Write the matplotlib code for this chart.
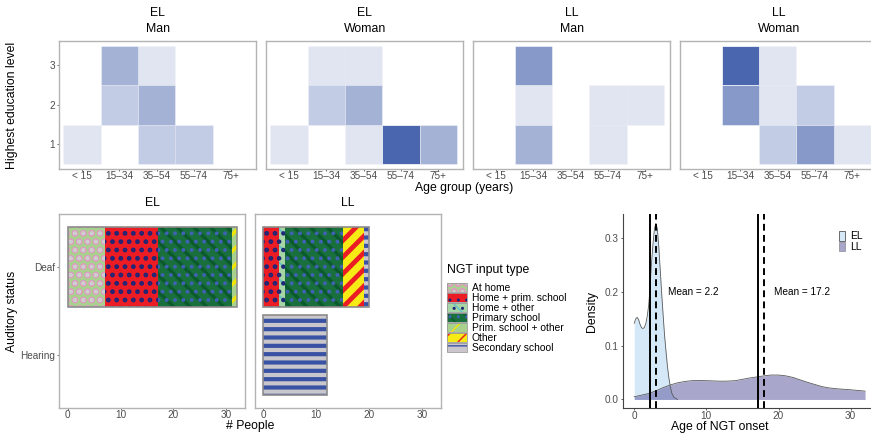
import matplotlib
matplotlib.use("Agg")
import matplotlib.pyplot as plt
from matplotlib.patches import Patch
from matplotlib.legend_handler import HandlerTuple

plt.rcParams['font.family'] = ['Liberation Sans', 'DejaVu Sans']

# ---------------- data ----------------
age_groups = ["< 15", "15–34", "35–54", "55–74", "75+"]
edu_levels = [1, 2, 3]
facet_titles = [("EL", "Man"), ("EL", "Woman"), ("LL", "Man"), ("LL", "Woman")]
# counts[row = education 1..3][col = age group]
el_man = [[1, 0, 2, 2, 0],
          [0, 2, 3, 0, 0],
          [0, 3, 1, 0, 0]]
el_woman = [[1, 0, 1, 6, 3],
            [0, 2, 3, 0, 0],
            [0, 1, 1, 0, 0]]
ll_man = [[0, 3, 0, 1, 0],
          [0, 1, 0, 1, 1],
          [0, 4, 0, 0, 0]]
ll_woman = [[0, 0, 2, 4, 1],
            [0, 4, 1, 2, 0],
            [0, 6, 1, 0, 0]]
heat_counts = [el_man, el_woman, ll_man, ll_woman]

input_types = ["At home", "Home + prim. school", "Home + other", "Primary school",
               "Prim. school + other", "Other", "Secondary school"]
auditory_status = ["Deaf", "Hearing"]
el_deaf = [7, 10, 0, 14, 1, 0, 0]
el_hearing = [0, 0, 0, 0, 0, 0, 0]
ll_deaf = [0, 3, 1, 11, 0, 4, 1]
ll_hearing = [0, 0, 0, 0, 0, 0, 12]
bar_groups = [("EL", [el_deaf, el_hearing]), ("LL", [ll_deaf, ll_hearing])]

el_onset_x = [0, 0.2, 0.4, 0.6, 0.8, 1.0, 1.2, 1.4, 1.6, 1.8, 2.0, 2.2, 2.4, 2.6, 2.8, 3.0,
              3.2, 3.4, 3.6, 3.8, 4.0, 4.2, 4.4, 4.6, 4.8, 5.0, 5.2, 5.5, 6.0]
el_onset_y = [0.142, 0.150, 0.153, 0.149, 0.140, 0.134, 0.132, 0.134, 0.141, 0.155, 0.175,
              0.210, 0.255, 0.290, 0.318, 0.328, 0.318, 0.285, 0.242, 0.198, 0.158, 0.120,
              0.090, 0.062, 0.040, 0.024, 0.012, 0.004, 0.0]
ll_onset_x = [0, 1, 2, 3, 4, 5, 6, 7, 8, 9, 10, 11, 12, 13, 14, 15, 16, 17, 18, 19, 20,
              21, 22, 23, 24, 25, 26, 27, 28, 29, 30, 31, 32]
ll_onset_y = [0.005, 0.008, 0.011, 0.016, 0.022, 0.027, 0.031, 0.0335, 0.035, 0.0352, 0.035,
              0.0345, 0.034, 0.0342, 0.035, 0.0375, 0.040, 0.042, 0.044, 0.0455, 0.0455,
              0.044, 0.041, 0.0365, 0.032, 0.028, 0.024, 0.0215, 0.020, 0.019, 0.018,
              0.0168, 0.0155]
el_mean, el_median = 2.2, 3
ll_mean, ll_median = 17.2, 18

# ---------------- styles ----------------
W, H = 871, 433
fig = plt.figure(figsize=(W / 100, H / 100), dpi=100)

def add_ax(x0, y0, x1, y1):
    return fig.add_axes([x0 / W, 1 - y1 / H, (x1 - x0) / W, (y1 - y0) / H])

def ftext(x, y, s, **kw):
    fig.text(x / W, 1 - y / H, s, **kw)

BOX = '#b3b3b3'
TICKC = '#4d4d4d'
TSIZE = 8.8
KSIZE = 7.2

def style_ticks(ax, color='#555555'):
    ax.tick_params(length=1.6, width=0.6, color=color, labelsize=KSIZE, labelcolor=TICKC)
    ax.tick_params(axis='x', pad=0.1)
    ax.tick_params(axis='y', pad=1.4)

def style_box(ax):
    for s in ax.spines.values():
        s.set_color(BOX)
        s.set_linewidth(1.0)
    style_ticks(ax)

# pattern definitions: background, list of (hatch, colour, hatch linewidth)
patterns = {
    "At home": ('#a9d18e', [('..', '#d3cdd6', 2.4), ('OO', '#d9a0bd', 0.6)]),
    "Home + prim. school": ('#ec1c24', [('..', '#1d2677', 2.2)]),
    "Home + other": ('#a6d6a6', [('\\\\', '#62c0c8', 1.2), ('..', '#1d2677', 2.0)]),
    "Primary school": ('#19703d', [('\\\\', '#0b5a2c', 2.4), ('..', '#3f62b5', 1.6)]),
    "Prim. school + other": ('#a9d18e', [('//', '#f3e600', 2.6)]),
    "Other": ('#f6eb14', [('//', '#ec1c24', 3.4)]),
    "Secondary school": ('#c9c6cc', [('--', '#3a52a3', 3.0)]),
}

def set_hlw(p, lw):
    if hasattr(p, 'set_hatch_linewidth'):
        p.set_hatch_linewidth(lw)

def make_patch_layers(name):
    bg, overlays = patterns[name]
    layers = [Patch(facecolor=bg, edgecolor='none', linewidth=0)]
    for h, c, lw in overlays:
        with plt.rc_context({'hatch.linewidth': lw}):
            p = Patch(facecolor='none', edgecolor=c, hatch=h, linewidth=0)
        set_hlw(p, lw)
        layers.append(p)
    layers.append(Patch(facecolor='none', edgecolor='#9a9a9a', linewidth=0.6))
    return tuple(layers)

# ---------------- heatmaps ----------------
heat_base = '#4a66ae'
heat_max = max(max(max(r) for r in m) for m in heat_counts)
for k, (counts, (grp, sex)) in enumerate(zip(heat_counts, facet_titles)):
    x0 = 59.3 + 207 * k
    ax = add_ax(x0, 40.7, x0 + 196.7, 169)
    for i, edu in enumerate(edu_levels):
        for j in range(len(age_groups)):
            c = counts[i][j]
            if c > 0:
                ax.bar(j + 1, 1, bottom=edu - 0.5, width=1, color=heat_base,
                       alpha=c / heat_max, edgecolor='white', linewidth=0.5)
    ax.set_xlim(0.39, 5.66)
    ax.set_ylim(0.37, 3.63)
    ax.set_xticks(range(1, len(age_groups) + 1))
    ax.set_xticklabels(age_groups)
    ax.set_yticks(edu_levels)
    style_box(ax)
    if k > 0:
        ax.tick_params(axis='y', left=False, labelleft=False)
    ftext(x0 + 196.7 / 2, 13, grp, ha='center', va='center', fontsize=TSIZE)
    ftext(x0 + 196.7 / 2, 29, sex, ha='center', va='center', fontsize=TSIZE)

ftext(12, 105, "Highest education level", rotation=90, ha='center', va='center', fontsize=TSIZE)
ftext(464, 188, "Age group (years)", ha='center', va='center', fontsize=TSIZE)

# ---------------- stacked pattern bars ----------------
for k, (grp, rows) in enumerate(bar_groups):
    x0 = 59.3 + 195.7 * k
    ax = add_ax(x0, 214.3, x0 + 186, 407.7)
    ypos = [2, 1]
    for yv, vals in zip(ypos, rows):
        left = 0
        for name, v in zip(input_types, vals):
            if v <= 0:
                continue
            bg, overlays = patterns[name]
            ax.barh(yv, v, left=left, height=0.9, color=bg, linewidth=0)
            for h, c, lw in overlays:
                with plt.rc_context({'hatch.linewidth': lw}):
                    bars = ax.barh(yv, v, left=left, height=0.9, facecolor='none',
                                   edgecolor=c, hatch=h, linewidth=0)
                for b in bars:
                    set_hlw(b, lw)
            left += v
        if sum(vals) > 0:
            ax.barh(yv, sum(vals), left=0, height=0.9, fill=False,
                    edgecolor='#8c8c8c', linewidth=1.2)
    ax.set_xlim(-1.6, 33.6)
    ax.set_ylim(0.4, 2.6)
    ax.set_xticks([0, 10, 20, 30])
    ax.set_yticks(ypos)
    ax.set_yticklabels(auditory_status)
    style_box(ax)
    if k > 0:
        ax.tick_params(axis='y', left=False, labelleft=False)
    ftext(x0 + 93, 203.5, grp, ha='center', va='center', fontsize=TSIZE)

ftext(250, 426.5, "# People", ha='center', va='center', fontsize=TSIZE)
ftext(12, 311, "Auditory status", rotation=90, ha='center', va='center', fontsize=TSIZE)

ftext(446.5, 270.5, "NGT input type", ha='left', va='center', fontsize=TSIZE)
handles = [make_patch_layers(n) for n in input_types]
leg = fig.legend(handles, input_types, loc='upper left',
                 bbox_to_anchor=(446.5 / W, 1 - 283.3 / H), bbox_transform=fig.transFigure,
                 frameon=False, fontsize=7.4,
                 handler_map={tuple: HandlerTuple(ndivide=1, pad=0)},
                 handlelength=1.95, handleheight=0.97, labelspacing=0.0,
                 handletextpad=0.5, borderpad=0, borderaxespad=0)

# ---------------- density ----------------
axd = add_ax(622.7, 214.3, 876.6, 408.3)
el_col = '#d5e8f7'
ll_col = '#544f9b'
axd.fill_between(el_onset_x, el_onset_y, 0, color=el_col, linewidth=0)
axd.plot(el_onset_x, el_onset_y, color='#5a5a5a', linewidth=0.6)
axd.fill_between(ll_onset_x, ll_onset_y, 0, color=ll_col, alpha=0.5, linewidth=0)
axd.plot(ll_onset_x, ll_onset_y, color='#5a5a5a', linewidth=0.6)
for m, md in [(el_mean, el_median), (ll_mean, ll_median)]:
    axd.axvline(m, color='black', linewidth=1.4)
    axd.axvline(md, color='black', linewidth=1.4, linestyle=(0, (3.5, 2.2)))
    axd.text(m + 6, 0.2, f"Mean = {m}", ha='center', va='center', fontsize=KSIZE)
axd.set_xlim(-1.6, 33.6)
axd.set_ylim(-0.0165, 0.345)
axd.set_xticks([0, 10, 20, 30])
axd.set_yticks([0.0, 0.1, 0.2, 0.3])
axd.set_yticklabels(["0.0", "0.1", "0.2", "0.3"])
for s in ['top', 'right']:
    axd.spines[s].set_visible(False)
for s in ['left', 'bottom']:
    axd.spines[s].set_color('#444444')
    axd.spines[s].set_linewidth(0.8)
style_ticks(axd, '#444444')
ftext(592, 311, "Density", rotation=90, ha='center', va='center', fontsize=TSIZE)
ftext(720, 427, "Age of NGT onset", ha='center', va='center', fontsize=TSIZE)
dleg = [Patch(facecolor=el_col, edgecolor='#555555', linewidth=0.6),
        Patch(facecolor=ll_col, alpha=0.5, edgecolor='#555555', linewidth=0.6)]
fig.legend(dleg, ["EL", "LL"], loc='upper left', bbox_to_anchor=(839 / W, 1 - 231 / H),
           bbox_transform=fig.transFigure, frameon=False, fontsize=7.4,
           handlelength=0.55, handleheight=1.05, handletextpad=0.5, labelspacing=0.05,
           borderpad=0, borderaxespad=0)

fig.savefig("out.png", dpi=100)
